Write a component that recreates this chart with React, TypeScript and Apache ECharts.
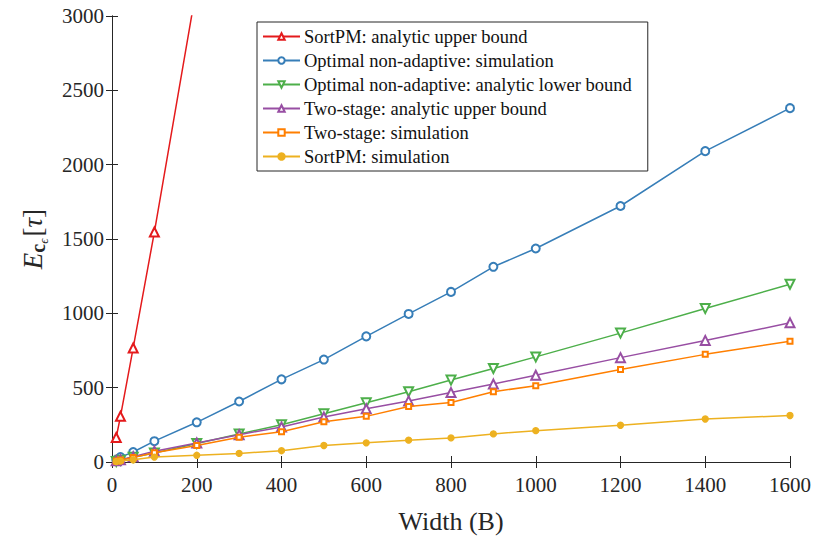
import React, { useEffect, useRef } from "react";
import * as echarts from "echarts";

const widths = [10, 20, 50, 100, 200, 300, 400, 500, 600, 700, 800, 900, 1000, 1200, 1400, 1600];
const sortpmUpperX = [10, 20, 50, 100, 200];
const sortpmUpper = [165, 307, 767, 1547, 3200];
const optimalSim = [15, 33, 67, 140, 267, 407, 556, 689, 845, 996, 1144, 1313, 1436, 1722, 2091, 2380];
const optimalLower = [4, 12, 32, 60, 125, 189, 251, 324, 398, 473, 551, 629, 707, 867, 1032, 1196];
const twoStageUpper = [8, 15, 35, 73, 128, 184, 236, 302, 358, 411, 467, 524, 584, 702, 818, 936];
const twoStageSim = [7, 14, 30, 62, 111, 167, 204, 271, 307, 373, 400, 473, 513, 622, 724, 813];
const sortpmSim = [3, 6, 15, 33, 45, 58, 76, 111, 129, 147, 162, 189, 211, 247, 289, 313];

const names = [
  "SortPM: analytic upper bound",
  "Optimal non-adaptive: simulation",
  "Optimal non-adaptive: analytic lower bound",
  "Two-stage: analytic upper bound",
  "Two-stage: simulation",
  "SortPM: simulation",
];
const colors = ["#e41a1c", "#377eb8", "#4daf4a", "#984ea3", "#ff7f00", "#edb120"];

const serif = "Liberation Serif";
const axisColor = "#262626";

export default function App() {
  const ref = useRef<HTMLDivElement>(null);
  useEffect(() => {
    if (!ref.current) return;
    const chart = echarts.init(ref.current, null, { renderer: "svg" });
    const pair = (xs: number[], ys: number[]) => xs.map((x, i) => [x, ys[i]]);
    const mk = (i: number, data: number[][], symbol: string, size: number, extra: any = {}) => ({
      name: names[i],
      type: "line",
      data,
      symbol,
      symbolSize: size,
      showSymbol: true,
      clip: true,
      lineStyle: { color: colors[i], width: 1.5 },
      itemStyle: { color: colors[i], borderColor: colors[i], borderWidth: 1.3 },
      z: 2 + i,
      ...extra,
    });
    const hiddenAxis = {
      axisLine: { show: true, lineStyle: { color: axisColor, width: 1 } },
      axisTick: { show: true, inside: true, length: 6, lineStyle: { color: axisColor } },
      axisLabel: { show: false },
      splitLine: { show: false },
    };
    chart.setOption({
      animation: false,
      backgroundColor: "#ffffff",
      textStyle: { fontFamily: serif },
      color: colors,
      grid: { left: 112, right: 27, top: 16, bottom: 73, containLabel: false },
      legend: {
        orient: "vertical",
        left: 257,
        top: 22,
        padding: [5, 16, 5, 5],
        itemGap: 5,
        itemWidth: 37,
        itemHeight: 8,
        borderColor: "#262626",
        borderWidth: 1,
        backgroundColor: "#ffffff",
        data: names,
        textStyle: { fontFamily: serif, fontSize: 18.5, lineHeight: 19, color: "#111", padding: [0, 0, 0, -1] },
      },
      xAxis: [
        {
          type: "value",
          min: 0,
          max: 1600,
          interval: 200,
          name: "Width (B)",
          nameLocation: "middle",
          nameGap: 46,
          nameTextStyle: { fontFamily: serif, fontSize: 26, color: "#262626" },
          axisLine: { show: true, onZero: false, lineStyle: { color: axisColor, width: 1 } },
          axisTick: { show: true, inside: true, length: 6, lineStyle: { color: axisColor } },
          axisLabel: { fontFamily: serif, fontSize: 21, color: "#262626", margin: 12, formatter: (v: number) => String(v) },
          splitLine: { show: false },
        },
        { type: "value", min: 0, max: 1600, interval: 200, position: "top", ...hiddenAxis },
      ],
      yAxis: [
        {
          type: "value",
          min: 0,
          max: 3000,
          interval: 500,
          name: "{e|E}{c|c}{eps|ϵ}{sp| }{b|[}{t|τ}{b|]}",
          nameLocation: "middle",
          nameGap: 62,
          nameRotate: 90,
          nameTextStyle: {
            fontFamily: serif,
            color: "#262626",
            rich: {
              e: { fontFamily: serif, fontSize: 27, fontStyle: "italic", color: "#262626" },
              c: { fontFamily: serif, fontSize: 20, fontWeight: "bold", color: "#262626", padding: [10, 0, 0, 0] },
              eps: { fontFamily: serif, fontSize: 13, fontStyle: "italic", color: "#262626", padding: [22, 0, 0, 0] },
              sp: { fontSize: 8 },
              b: { fontFamily: serif, fontSize: 27, color: "#262626" },
              t: { fontFamily: serif, fontSize: 27, fontStyle: "italic", color: "#262626" },
            },
          },
          axisLine: { show: true, onZero: false, lineStyle: { color: axisColor, width: 1 } },
          axisTick: { show: true, inside: true, length: 6, lineStyle: { color: axisColor } },
          axisLabel: { fontFamily: serif, fontSize: 21, color: "#262626", margin: 8, formatter: (v: number) => String(v) },
          splitLine: { show: false },
        },
        { type: "value", min: 0, max: 3000, interval: 500, position: "right", ...hiddenAxis },
      ],
      series: [
        mk(0, pair(sortpmUpperX, sortpmUpper), "emptyTriangle", 9),
        mk(1, pair(widths, optimalSim), "emptyCircle", 8),
        mk(2, pair(widths, optimalLower), "emptyTriangle", 9, { symbolRotate: 180 }),
        mk(3, pair(widths, twoStageUpper), "emptyTriangle", 9),
        mk(4, pair(widths, twoStageSim), "emptyRect", 5),
        mk(5, pair(widths, sortpmSim), "circle", 6),
      ],
    });
    return () => chart.dispose();
  }, []);
  return (
    <div
      ref={ref}
      style={{ position: "fixed", left: 0, top: 0, width: 817, height: 539, background: "#fff" }}
    />
  );
}
